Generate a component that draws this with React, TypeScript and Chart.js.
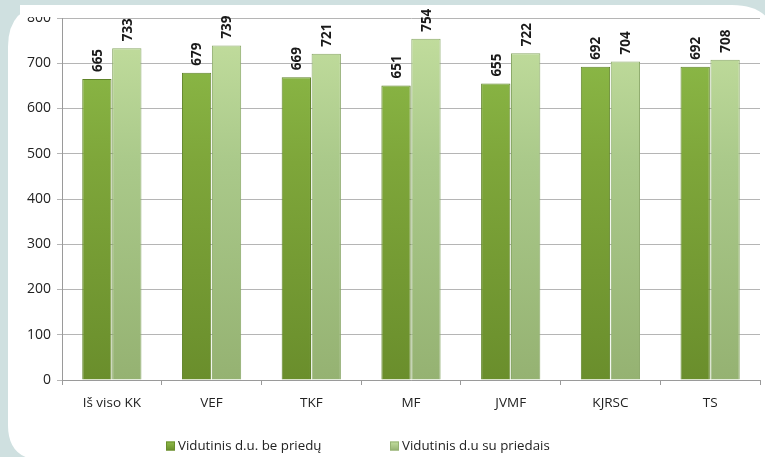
import React, { useEffect, useRef } from "react";
import { Chart, registerables } from "chart.js";

Chart.register(...registerables);

const categories = ["Iš viso KK", "VEF", "TKF", "MF", "JVMF", "KJRSC", "TS"];
const withoutBonus = [665, 679, 669, 651, 655, 692, 692];
const withBonus = [733, 739, 721, 754, 722, 704, 708];
const seriesNames = ["Vidutinis d.u. be priedų", "Vidutinis d.u su priedais"];
const yTicks = [0, 100, 200, 300, 400, 500, 600, 700, 800];

const FONT = "'Open Sans', 'Liberation Sans', sans-serif";
const DARK = ["#6a8e2c", "#7ea63a", "#8fbd4a"];
const LIGHT = ["#95b272", "#aac98a", "#c4df9f"];

const bgPlugin = {
  id: "bgPanel",
  beforeDraw(chart: any) {
    const c = chart.ctx;
    const w = chart.width;
    const h = chart.height;
    c.save();
    c.fillStyle = "#cfe0e0";
    c.fillRect(0, 0, w, h);
    const x0 = 8, y0 = 5, x1 = w + 12, y1 = h + 3;
    const rtl = 42, rtr = 45, rbl = 35, rbr = 10;
    c.beginPath();
    c.moveTo(x0 + rtl, y0);
    c.lineTo(x1 - rtr, y0);
    c.quadraticCurveTo(x1, y0, x1, y0 + rtr);
    c.lineTo(x1, y1 - rbr);
    c.quadraticCurveTo(x1, y1, x1 - rbr, y1);
    c.lineTo(x0 + rbl, y1);
    c.quadraticCurveTo(x0, y1, x0, y1 - rbl);
    c.lineTo(x0, y0 + rtl);
    c.quadraticCurveTo(x0, y0, x0 + rtl, y0);
    c.closePath();
    c.fillStyle = "#ffffff";
    c.fill();
    c.restore();
  },
};

const labelPlugin = {
  id: "barLabels",
  afterDatasetsDraw(chart: any) {
    const c = chart.ctx;
    c.save();
    c.font = `bold 13.5px ${FONT}`;
    c.fillStyle = "#1a1a1a";
    c.textAlign = "left";
    c.textBaseline = "middle";
    chart.data.datasets.forEach((ds: any, di: number) => {
      const meta = chart.getDatasetMeta(di);
      meta.data.forEach((bar: any, i: number) => {
        const v = ds.data[i];
        c.save();
        c.translate(bar.x + 1, bar.y - 7);
        c.rotate(-Math.PI / 2);
        c.fillText(String(v), 0, 0);
        c.restore();
      });
    });
    c.restore();
  },
};

const legendPlugin = {
  id: "customLegend",
  afterDraw(chart: any) {
    const c = chart.ctx;
    c.save();
    c.font = `13.3px ${FONT}`;
    c.textBaseline = "middle";
    c.textAlign = "left";
    const box = 9, gapText = 3;
    const starts = [166, 390];
    const y = 446;
    chart.data.datasets.forEach((d: any, i: number) => {
      const x = starts[i];
      const cols = i === 0 ? DARK : LIGHT;
      const g = c.createLinearGradient(0, y + box / 2, 0, y - box / 2);
      g.addColorStop(0, cols[0]);
      g.addColorStop(1, cols[2]);
      c.fillStyle = g;
      c.fillRect(x, y - box / 2, box, box);
      c.strokeStyle = cols[0];
      c.lineWidth = 1;
      c.strokeRect(x + 0.5, y - box / 2 + 0.5, box - 1, box - 1);
      c.fillStyle = "#222";
      c.fillText(d.label, x + box + gapText, y + 0.5);
    });
    // top clipping of the highest axis label, as in the reference
    c.fillStyle = "#ffffff";
    c.fillRect(20, 5, 38, 12);
    c.restore();
  },
};

function grad(chart: any, cols: string[]) {
  const area = chart.chartArea;
  if (!area) return cols[1];
  const g = chart.ctx.createLinearGradient(0, area.bottom, 0, area.top);
  g.addColorStop(0, cols[0]);
  g.addColorStop(0.6, cols[1]);
  g.addColorStop(1, cols[2]);
  return g;
}

export default function App() {
  const ref = useRef<HTMLCanvasElement | null>(null);
  useEffect(() => {
    if (!ref.current) return;
    const chart = new Chart(ref.current, {
      type: "bar",
      data: {
        labels: categories,
        datasets: [
          {
            label: seriesNames[0],
            data: withoutBonus,
            backgroundColor: (ctx: any) => grad(ctx.chart, DARK),
            borderColor: "#5f8328",
            borderWidth: 1,
          },
          {
            label: seriesNames[1],
            data: withBonus,
            backgroundColor: (ctx: any) => grad(ctx.chart, LIGHT),
            borderColor: "#8aa868",
            borderWidth: 1,
          },
        ],
      },
      options: {
        responsive: false,
        animation: false,
        devicePixelRatio: 1,
        layout: { padding: { top: 18, right: 5, left: 0, bottom: 0 } },
        datasets: { bar: { categoryPercentage: 0.6, barPercentage: 0.98 } } as any,
        scales: {
          x: {
            offset: true,
            afterFit: (s: any) => { s.height = 77; },
            grid: {
              offset: true,
              drawOnChartArea: false,
              drawTicks: true,
              tickLength: 5,
              color: "#9a9a9a",
            },
            border: { color: "#9a9a9a" },
            ticks: {
              color: "#222",
              font: { family: FONT, size: 13.5 },
              padding: 10,
            },
          },
          y: {
            min: 0,
            max: 800,
            afterFit: (s: any) => { s.width = 62; },
            afterBuildTicks: (s: any) => { s.ticks = yTicks.map((v) => ({ value: v })); },
            grid: { color: "#b5b5b5", tickLength: 5, drawTicks: true },
            border: { color: "#9a9a9a" },
            ticks: {
              color: "#222",
              font: { family: FONT, size: 14 },
              padding: 6,
            },
          },
        },
        plugins: {
          legend: { display: false },
          tooltip: { enabled: false },
        },
      },
      plugins: [bgPlugin, labelPlugin, legendPlugin],
    });
    return () => chart.destroy();
  }, []);
  return (
    <div style={{ position: "fixed", left: 0, top: 0, width: 765, height: 457 }}>
      <canvas ref={ref} width={765} height={457} style={{ display: "block" }} />
    </div>
  );
}
